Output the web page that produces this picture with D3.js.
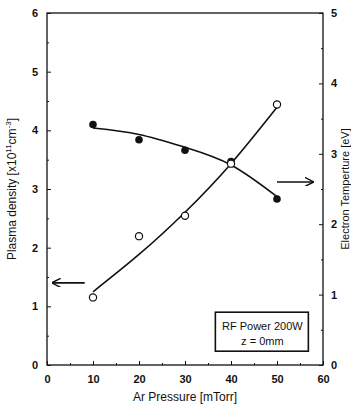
<!DOCTYPE html>
<html>
<head>
<meta charset="utf-8">
<script src="https://cdn.jsdelivr.net/npm/d3@7"></script>
<style>
  body { margin: 0; background: #fff; }
  text { font-family: "Liberation Sans", Arial, sans-serif; fill: #111; }
</style>
</head>
<body>
<svg id="chart" width="351" height="407"></svg>
<script>
// pressure values (mTorr)
const pressure = [10, 20, 30, 40, 50];
// plasma density, x10^11 cm^-3 (filled circles, left axis)
const density = [4.10, 3.84, 3.66, 3.47, 2.83];
// electron temperature, eV (open circles, right axis)
const temperature = [0.96, 1.83, 2.12, 2.86, 3.70];
// hand-drawn fit curves
const densityFit = [4.04, 3.93, 3.71, 3.41, 2.87];
const temperatureFit = [1.04, 1.57, 2.17, 2.86, 3.66];

const xTicks = [0, 10, 20, 30, 40, 50, 60];
const leftTicks = [0, 1, 2, 3, 4, 5, 6];
const rightTicks = [0, 1, 2, 3, 4, 5];

const svg = d3.select('#chart');
const margin = { left: 47, right: 28, top: 13, bottom: 42 };
const W = 351, H = 407;

const x = d3.scaleLinear().domain([0, 60]).range([margin.left, W - margin.right]);
const yL = d3.scaleLinear().domain([0, 6]).range([H - margin.bottom, margin.top]);
const yR = d3.scaleLinear().domain([0, 5]).range([H - margin.bottom, margin.top]);
const fmt = d3.format('d');

// frame
svg.append('rect')
  .attr('x', x(0)).attr('y', yL(6))
  .attr('width', x(60) - x(0)).attr('height', yL(0) - yL(6))
  .attr('fill', 'none').attr('stroke', '#111').attr('stroke-width', 1.3);

function styleAxis(g) {
  g.select('.domain').remove();
  g.selectAll('.tick line').attr('stroke', '#111').attr('stroke-width', 1);
  g.selectAll('.tick text')
    .style('font-size', '11px').style('font-weight', 'bold')
    .style('font-family', '"Liberation Sans", Arial, sans-serif');
}

// bottom axis (ticks inward)
svg.append('g').attr('transform', `translate(0,${yL(0)})`)
  .call(d3.axisBottom(x).tickValues(xTicks).tickFormat(fmt).tickSize(-4).tickPadding(10))
  .call(styleAxis);
svg.append('g').attr('transform', `translate(0,${yL(0)})`)
  .call(d3.axisBottom(x).tickValues(d3.range(5, 60, 10)).tickSize(-2).tickFormat(''))
  .call(styleAxis);

// left axis
svg.append('g').attr('transform', `translate(${x(0)},0)`)
  .call(d3.axisLeft(yL).tickValues(leftTicks).tickFormat(fmt).tickSize(-4).tickPadding(9))
  .call(styleAxis);
svg.append('g').attr('transform', `translate(${x(0)},0)`)
  .call(d3.axisLeft(yL).tickValues(d3.range(0.5, 6, 1)).tickSize(-2).tickFormat(''))
  .call(styleAxis);

// right axis
svg.append('g').attr('transform', `translate(${x(60)},0)`)
  .call(d3.axisRight(yR).tickValues(rightTicks).tickFormat(fmt).tickSize(-4).tickPadding(8))
  .call(styleAxis);
svg.append('g').attr('transform', `translate(${x(60)},0)`)
  .call(d3.axisRight(yR).tickValues(d3.range(0.5, 5, 1)).tickSize(-2).tickFormat(''))
  .call(styleAxis);

// fit curves
const lineL = d3.line().x((d, i) => x(pressure[i])).y(d => yL(d)).curve(d3.curveNatural);
const lineR = d3.line().x((d, i) => x(pressure[i])).y(d => yR(d)).curve(d3.curveNatural);
svg.append('path').attr('d', lineL(densityFit))
  .attr('fill', 'none').attr('stroke', '#111').attr('stroke-width', 1.6);
svg.append('path').attr('d', lineR(temperatureFit))
  .attr('fill', 'none').attr('stroke', '#111').attr('stroke-width', 1.6);

// markers
svg.append('g').selectAll('circle').data(density).enter().append('circle')
  .attr('cx', (d, i) => x(pressure[i])).attr('cy', d => yL(d))
  .attr('r', 3.8).attr('fill', '#111');
svg.append('g').selectAll('circle').data(temperature).enter().append('circle')
  .attr('cx', (d, i) => x(pressure[i])).attr('cy', d => yR(d))
  .attr('r', 3.6).attr('fill', '#fff').attr('stroke', '#111').attr('stroke-width', 1.2);

// arrows pointing to the axes
svg.append('defs').append('marker')
  .attr('id', 'head').attr('viewBox', '0 0 10 10').attr('refX', 9).attr('refY', 5)
  .attr('markerWidth', 9).attr('markerHeight', 9).attr('markerUnits', 'userSpaceOnUse')
  .attr('orient', 'auto')
  .append('path').attr('d', 'M0,0 L10,5 L0,10').attr('fill', 'none')
  .attr('stroke', '#111').attr('stroke-width', 1.6);
svg.append('line')
  .attr('x1', x(8.2)).attr('x2', x(1.2)).attr('y1', yL(1.4)).attr('y2', yL(1.4))
  .attr('stroke', '#111').attr('stroke-width', 1.6).attr('marker-end', 'url(#head)');
svg.append('line')
  .attr('x1', x(50)).attr('x2', x(57.8)).attr('y1', yR(2.6)).attr('y2', yR(2.6))
  .attr('stroke', '#111').attr('stroke-width', 1.6).attr('marker-end', 'url(#head)');

// legend box
const box = svg.append('g').attr('transform', `translate(${x(36.6)},${yL(0.9)})`);
box.append('rect').attr('width', 93).attr('height', 39)
  .attr('fill', '#fff').attr('stroke', '#111').attr('stroke-width', 1.6);
box.append('text').attr('x', 47).attr('y', 18).attr('text-anchor', 'middle')
  .style('font-size', '11px').text('RF Power 200W');
box.append('text').attr('x', 47).attr('y', 33).attr('text-anchor', 'middle')
  .style('font-size', '11px').text('z = 0mm');

// axis titles
svg.append('text').attr('x', (x(0) + x(60)) / 2).attr('y', 401)
  .attr('text-anchor', 'middle').style('font-size', '12px').text('Ar Pressure [mTorr]');

const lt = svg.append('text')
  .attr('transform', `translate(16,${(yL(0) + yL(6)) / 2}) rotate(-90)`)
  .attr('text-anchor', 'middle').style('font-size', '12px');
lt.append('tspan').text('Plasma density [x10');
lt.append('tspan').attr('dy', -5).style('font-size', '8px').text('11');
lt.append('tspan').attr('dy', 5).text('cm');
lt.append('tspan').attr('dy', -5).style('font-size', '8px').text('-3');
lt.append('tspan').attr('dy', 5).text(']');

svg.append('text')
  .attr('transform', `translate(349,${(yL(0) + yL(6)) / 2}) rotate(-90)`)
  .attr('text-anchor', 'middle').style('font-size', '11px').text('Electron Temperture [eV]');
</script>
</body>
</html>
